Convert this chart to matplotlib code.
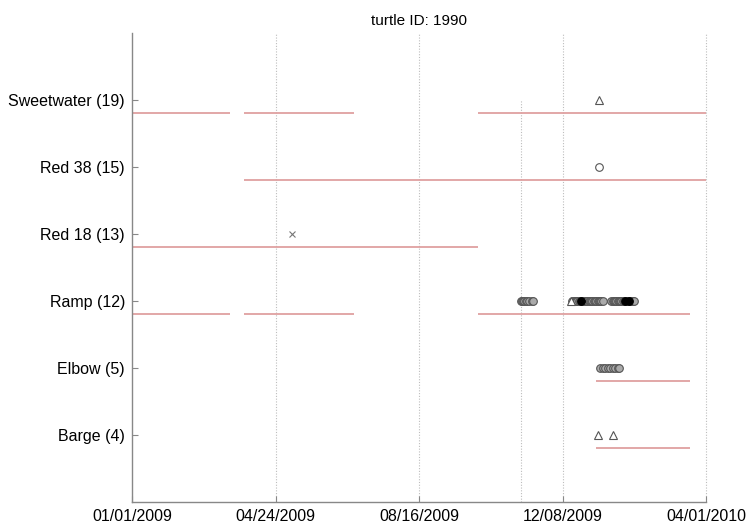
import matplotlib
matplotlib.use("Agg")
import matplotlib.pyplot as plt
import matplotlib.dates as mdates
import numpy as np
from datetime import datetime

plt.rcParams['font.family'] = ['Liberation Sans', 'DejaVu Sans']

title = "turtle ID: 1990"
receivers = ['Barge (4)', 'Elbow (5)', 'Ramp (12)', 'Red 18 (13)', 'Red 38 (15)', 'Sweetwater (19)']
x_start = datetime(2009, 1, 1)
x_end = datetime(2010, 4, 1)
tick_labels = ['01/01/2009', '04/24/2009', '08/16/2009', '12/08/2009', '04/01/2010']
marker_date = datetime(2009, 11, 5)

# receiver deployment periods (start, end) per receiver
deployments = {
    'Sweetwater (19)': [('2009-01-01', '2009-03-20'), ('2009-03-31', '2009-06-26'), ('2009-10-02', '2010-04-01')],
    'Red 38 (15)': [('2009-03-31', '2010-04-01')],
    'Red 18 (13)': [('2009-01-01', '2009-10-02')],
    'Ramp (12)': [('2009-01-01', '2009-03-20'), ('2009-03-31', '2009-06-26'), ('2009-10-02', '2010-03-19')],
    'Elbow (5)': [('2010-01-04', '2010-03-19')],
    'Barge (4)': [('2010-01-04', '2010-03-19')],
}

# detections: open circles
circle_hits = {
    'Red 38 (15)': ['2010-01-06'],
    'Ramp (12)': ['2009-11-05', '2009-11-06', '2009-11-07', '2009-11-08', '2009-11-09', '2009-11-10',
                  '2009-11-12', '2009-11-14', '2009-11-15',
                  '2009-12-16', '2009-12-17', '2009-12-18', '2009-12-19', '2009-12-20', '2009-12-21',
                  '2009-12-22', '2009-12-24', '2009-12-25', '2009-12-26', '2009-12-27', '2009-12-28',
                  '2009-12-29', '2009-12-30', '2009-12-31', '2010-01-01', '2010-01-02', '2010-01-03',
                  '2010-01-04', '2010-01-05', '2010-01-06', '2010-01-07', '2010-01-08', '2010-01-09',
                  '2010-01-16', '2010-01-17', '2010-01-18', '2010-01-19', '2010-01-20', '2010-01-21',
                  '2010-01-22', '2010-01-23', '2010-01-24', '2010-01-25', '2010-01-26', '2010-01-28',
                  '2010-01-29', '2010-01-31', '2010-02-01', '2010-02-02', '2010-02-03'],
    'Elbow (5)': ['2010-01-07', '2010-01-09', '2010-01-11', '2010-01-13', '2010-01-15', '2010-01-17',
                  '2010-01-19', '2010-01-21', '2010-01-22'],
}
# detections: filled circles
filled_hits = {
    'Ramp (12)': ['2009-12-23', '2010-01-27', '2010-01-30'],
}
# detections: triangles
triangle_hits = {
    'Sweetwater (19)': ['2010-01-06'],
    'Ramp (12)': ['2009-12-15'],
    'Barge (4)': ['2010-01-05', '2010-01-17'],
}
# detections: crosses
cross_hits = {
    'Red 18 (13)': ['2009-05-08'],
}

def to_num(lst):
    return mdates.date2num([datetime.strptime(s, '%Y-%m-%d') for s in lst])

fig = plt.figure(figsize=(7.51, 5.27), dpi=100)
ax = fig.add_axes([0.1758, 0.0474, 0.7643, 0.8900])

x0 = mdates.date2num(x_start)
x1 = mdates.date2num(x_end)
ticks = np.linspace(x0, x1, len(tick_labels))

# dotted grid lines at the date ticks
for t in ticks[1:]:
    ax.plot([t, t], [0, 7], linestyle=(0, (1, 1.5)), color='#bdbdbd', lw=0.8, zorder=1, clip_on=False)
ax.plot([mdates.date2num(marker_date)] * 2, [0, 6], linestyle=(0, (1, 1.5)), color='#bdbdbd', lw=0.8, zorder=1)

ypos = {name: i + 1 for i, name in enumerate(receivers)}
line_col = '#dfa0a0'
for name, segs in deployments.items():
    for a, b in segs:
        xs = to_num([a, b])
        ax.plot(xs, [ypos[name] - 0.2] * 2, color=line_col, lw=1.3, solid_capstyle='butt', zorder=2)

edge = '#555555'
for name, ds in circle_hits.items():
    xs = to_num(ds)
    ax.plot(xs, [ypos[name]] * len(xs), linestyle='none', marker='o', ms=5.5,
            mfc='#aaaaaa' if len(xs) > 1 else 'white', mec=edge, mew=0.8, zorder=3)
for name, ds in filled_hits.items():
    xs = to_num(ds)
    ax.plot(xs, [ypos[name]] * len(xs), linestyle='none', marker='o', ms=5.5,
            mfc='black', mec='black', mew=0.8, zorder=4)
for name, ds in triangle_hits.items():
    xs = to_num(ds)
    ax.plot(xs, [ypos[name]] * len(xs), linestyle='none', marker='^', ms=6,
            mfc='white', mec=edge, mew=0.8, zorder=3)
for name, ds in cross_hits.items():
    xs = to_num(ds)
    ax.plot(xs, [ypos[name]] * len(xs), linestyle='none', marker='x', ms=4.5,
            mec='#777777', mew=0.8, zorder=3)

ax.set_xlim(x0, x1)
ax.set_ylim(0, 7)
ax.set_xticks(ticks)
ax.set_xticklabels(tick_labels, fontsize=11.5)
ax.set_yticks([ypos[n] for n in receivers])
ax.set_yticklabels(receivers, fontsize=11.5)
ax.tick_params(direction='in', length=4, color='#888888', width=0.8, pad=5)
for side in ('top', 'right'):
    ax.spines[side].set_visible(False)
for side in ('left', 'bottom'):
    ax.spines[side].set_color('#888888')
    ax.spines[side].set_linewidth(1.0)
ax.set_title(title, fontsize=11, pad=6)

fig.savefig('out.png', dpi=100)
